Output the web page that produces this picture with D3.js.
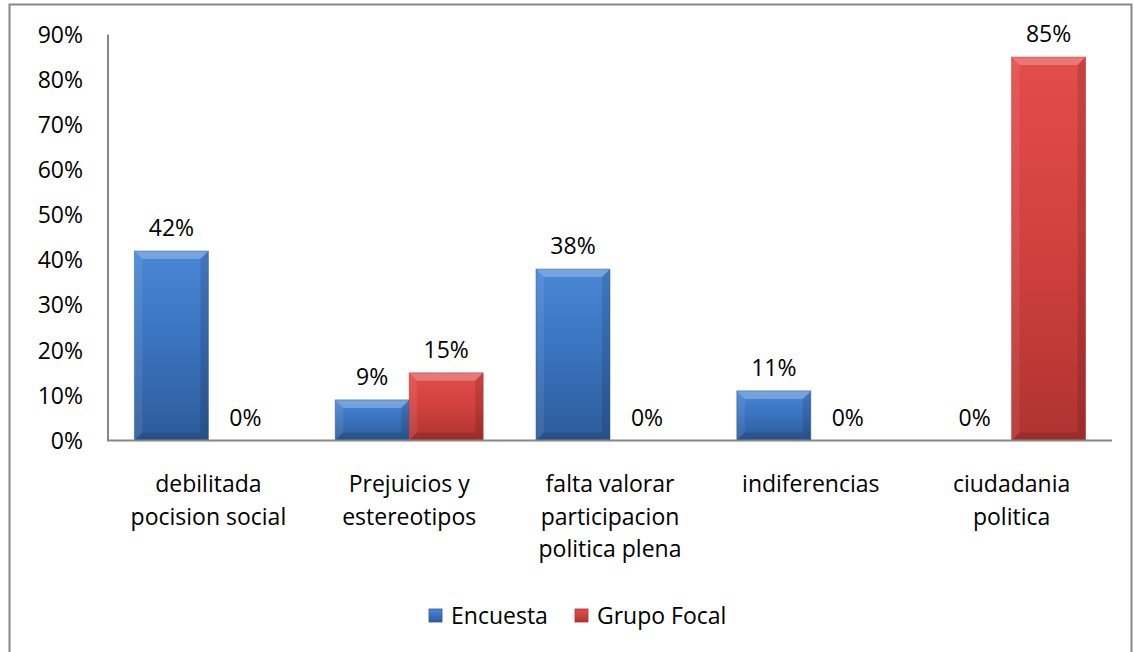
<!DOCTYPE html>
<html>
<head>
<meta charset="utf-8">
<script src="https://cdn.jsdelivr.net/npm/d3@7"></script>
<style>
  body { margin: 0; background: #fff; }
  svg text { font-family: 'Open Sans', sans-serif; fill: #000; }
</style>
</head>
<body>
<div id="chart"></div>
<script>
'use strict';

var categories = [
  ['debilitada', 'pocision social'],
  ['Prejuicios y', 'estereotipos'],
  ['falta valorar', 'participacion', 'politica plena'],
  ['indiferencias'],
  ['ciudadania', 'politica']
];
var seriesNames = ['Encuesta', 'Grupo Focal'];
var encuesta = [42, 9, 38, 11, 0];
var grupoFocal = [0, 15, 0, 0, 85];
var yTicks = [0, 10, 20, 30, 40, 50, 60, 70, 80, 90];

var chart = {
  draw: function() {
    var w, h, svg, defs, x, x1, y, colors, series, fontSize, bevel, legend, legendX;

    w = 1135;
    h = 652;
    fontSize = 23;
    bevel = 8;

    svg = d3.select('#chart')
      .append('svg')
      .attr('width', w)
      .attr('height', h);

    // outer chart border (runs off the right and bottom of the picture)
    svg.append('rect')
      .attr('x', 9.5)
      .attr('y', 4.5)
      .attr('width', 1122)
      .attr('height', 660)
      .attr('fill', 'white')
      .attr('stroke', '#898989')
      .attr('stroke-width', 2);

    colors = [
      { top: '#4a87d6', mid: '#3b74c0', bottom: '#2d5b99' },
      { top: '#e24d4a', mid: '#d3423f', bottom: '#b03331' }
    ];

    defs = svg.append('defs');
    colors.forEach(function(c, i) {
      var g = defs.append('linearGradient')
        .attr('id', 'grad' + i)
        .attr('x1', 0).attr('y1', 0).attr('x2', 0).attr('y2', 1);
      g.append('stop').attr('offset', '0%').attr('stop-color', c.top);
      g.append('stop').attr('offset', '45%').attr('stop-color', c.mid);
      g.append('stop').attr('offset', '100%').attr('stop-color', c.bottom);
    });

    x = d3.scaleBand()
      .domain(d3.range(categories.length))
      .range([108, 1112]);

    x1 = d3.scaleBand()
      .domain(d3.range(seriesNames.length))
      .range([0, x.bandwidth()])
      .paddingOuter(0.357)
      .paddingInner(0);

    y = d3.scaleLinear()
      .domain([0, 90])
      .range([440.5, 34.5]);

    // y tick labels
    svg.append('g')
      .selectAll('text')
      .data(yTicks)
      .join('text')
      .attr('x', 83)
      .attr('y', function(d) { return y(d); })
      .attr('dy', '0.36em')
      .attr('text-anchor', 'end')
      .style('font-size', fontSize + 'px')
      .text(function(d) { return d + '%'; });

    series = [encuesta, grupoFocal];

    series.forEach(function(values, s) {
      var g = svg.append('g');
      values.forEach(function(v, i) {
        var bx, by, bw, bh, d;
        bx = x(i) + x1(s);
        bw = x1.bandwidth();
        by = y(v);
        bh = y(0) - y(v);

        if (bh > 0) {
          d = Math.min(bevel, bh / 2);
          g.append('rect')
            .attr('x', bx)
            .attr('y', by)
            .attr('width', bw)
            .attr('height', bh)
            .attr('fill', 'url(#grad' + s + ')');
          // bevel: lighter top, darker sides and bottom
          g.append('path')
            .attr('d', 'M' + bx + ',' + by + 'L' + (bx + bw) + ',' + by +
              'L' + (bx + bw - d) + ',' + (by + d) + 'L' + (bx + d) + ',' + (by + d) + 'Z')
            .attr('fill', 'white')
            .attr('fill-opacity', 0.25);
          g.append('path')
            .attr('d', 'M' + bx + ',' + by + 'L' + (bx + d) + ',' + (by + d) +
              'L' + (bx + d) + ',' + (by + bh - d) + 'L' + bx + ',' + (by + bh) + 'Z')
            .attr('fill', 'white')
            .attr('fill-opacity', 0.08);
          g.append('path')
            .attr('d', 'M' + (bx + bw) + ',' + by + 'L' + (bx + bw - d) + ',' + (by + d) +
              'L' + (bx + bw - d) + ',' + (by + bh - d) + 'L' + (bx + bw) + ',' + (by + bh) + 'Z')
            .attr('fill', 'black')
            .attr('fill-opacity', 0.12);
          g.append('path')
            .attr('d', 'M' + bx + ',' + (by + bh) + 'L' + (bx + d) + ',' + (by + bh - d) +
              'L' + (bx + bw - d) + ',' + (by + bh - d) + 'L' + (bx + bw) + ',' + (by + bh) + 'Z')
            .attr('fill', 'black')
            .attr('fill-opacity', 0.12);
          g.append('rect')
            .attr('x', bx)
            .attr('y', by)
            .attr('width', bw)
            .attr('height', bh)
            .attr('fill', 'none')
            .attr('stroke', colors[s].bottom)
            .attr('stroke-opacity', 0.5)
            .attr('stroke-width', 1);
        }

        // data label
        g.append('text')
          .attr('x', bx + bw / 2)
          .attr('y', by - 15)
          .attr('text-anchor', 'middle')
          .style('font-size', fontSize + 'px')
          .text(v + '%');
      });
    });

    // axes lines
    svg.append('line')
      .attr('x1', 108).attr('x2', 108)
      .attr('y1', y(90)).attr('y2', y(0))
      .attr('stroke', '#868686')
      .attr('stroke-width', 2);
    svg.append('line')
      .attr('x1', 107).attr('x2', 1112)
      .attr('y1', y(0)).attr('y2', y(0))
      .attr('stroke', '#868686')
      .attr('stroke-width', 2);

    // category labels
    svg.append('g')
      .selectAll('text')
      .data(categories)
      .join('text')
      .attr('x', function(d, i) { return x(i) + x.bandwidth() / 2; })
      .attr('y', 492)
      .attr('text-anchor', 'middle')
      .style('font-size', fontSize + 'px')
      .each(function(lines) {
        var t = d3.select(this);
        lines.forEach(function(line, k) {
          t.append('tspan')
            .attr('x', t.attr('x'))
            .attr('dy', k === 0 ? 0 : 32.5)
            .text(line);
        });
      });

    // legend
    legendX = [429, 575];
    legend = svg.append('g');
    seriesNames.forEach(function(name, s) {
      legend.append('rect')
        .attr('x', legendX[s])
        .attr('y', 609)
        .attr('width', 13)
        .attr('height', 13)
        .attr('fill', 'url(#grad' + s + ')')
        .attr('stroke', colors[s].bottom)
        .attr('stroke-width', 0.8);
      legend.append('text')
        .attr('x', legendX[s] + 22)
        .attr('y', 624)
        .style('font-size', fontSize + 'px')
        .text(name);
    });
  }
};

chart.draw();
</script>
</body>
</html>
